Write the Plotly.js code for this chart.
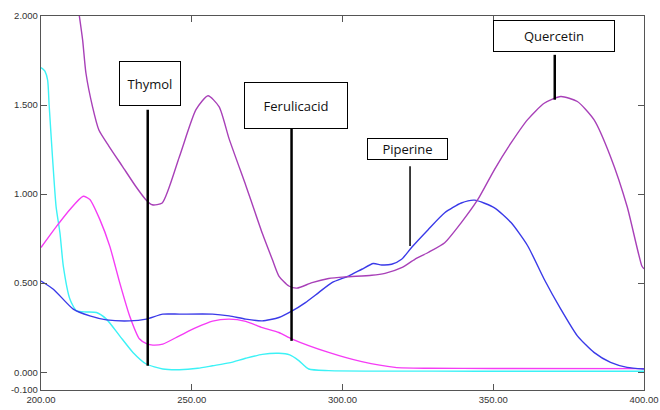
<!DOCTYPE html>
<html>
<head>
<meta charset="utf-8">
<script src="https://cdn.plot.ly/plotly-3.0.1.min.js"></script>
<style>html,body{margin:0;padding:0;background:#fff;}#chart{width:660px;height:410px;}</style>
</head>
<body>
<div id="chart"></div>
<script>
// Wavelength (nm) and absorbance
const cyanX = [200, 200.8, 201.3, 202.2, 202.7, 203.8, 205.0, 206.3, 207.4, 209.6, 211.8, 215.0, 218.4, 221.7, 226.1, 230.5, 234.9, 240.4, 245.9, 252.0, 256.9, 262.4, 267.9, 273.4, 278.9, 282.5, 285.5, 288.8, 295.4, 330, 360, 400];
const cyanY = [1.71, 1.70, 1.69, 1.64, 1.50, 1.21, 0.93, 0.78, 0.596, 0.41, 0.344, 0.338, 0.335, 0.298, 0.204, 0.111, 0.046, 0.018, 0.014, 0.022, 0.036, 0.052, 0.078, 0.100, 0.106, 0.097, 0.065, 0.018, 0.009, 0.006, 0.005, 0.005];

const magX = [200, 205.2, 209.6, 214.0, 216.2, 219.5, 222.8, 226.1, 229.4, 232.7, 235.0, 237.1, 240.4, 245.9, 251.4, 256.9, 262.4, 267.9, 273.4, 278.9, 283.3, 295.4, 306.4, 317.4, 328.4, 350, 400];
const magY = [0.70, 0.82, 0.914, 0.988, 0.97, 0.858, 0.708, 0.503, 0.316, 0.186, 0.16, 0.152, 0.158, 0.204, 0.25, 0.287, 0.298, 0.285, 0.25, 0.223, 0.186, 0.111, 0.059, 0.027, 0.022, 0.021, 0.020];

const blueX = [200, 204.1, 210.7, 216.2, 221.7, 229.4, 234.9, 240.4, 245.9, 256.9, 262.4, 267.9, 273.4, 278.9, 283.3, 287.7, 292.1, 296.5, 302.0, 306.4, 310.2, 313.0, 316.3, 319.6, 322.9, 328.4, 333.9, 339.4, 343.8, 350.4, 355.9, 361.4, 366.9, 372.4, 377.9, 383.4, 388.9, 394.4, 400];
const blueY = [0.512, 0.466, 0.354, 0.316, 0.294, 0.288, 0.298, 0.326, 0.326, 0.326, 0.316, 0.298, 0.288, 0.307, 0.344, 0.391, 0.447, 0.503, 0.54, 0.578, 0.61, 0.602, 0.606, 0.634, 0.70, 0.80, 0.895, 0.95, 0.966, 0.923, 0.84, 0.71, 0.522, 0.354, 0.204, 0.111, 0.055, 0.027, 0.018];

const purpX = [212.3, 213.8, 214.9, 217.1, 219.2, 222.5, 227.0, 231.4, 234.7, 236.9, 240.2, 245.9, 251.4, 255.4, 259.1, 262.4, 267.9, 269.6, 273.4, 276.7, 278.9, 282.2, 284.9, 289.9, 295.4, 300.9, 309.7, 314.1, 319.6, 324.0, 328.4, 333.9, 339.4, 344.9, 350.4, 355.9, 361.4, 366.9, 372.4, 377.9, 383.4, 388.9, 394.4, 399.3, 400];
const purpY = [2.05, 1.866, 1.68, 1.49, 1.36, 1.27, 1.156, 1.044, 0.97, 0.94, 0.95, 1.21, 1.474, 1.552, 1.49, 1.31, 1.05, 0.967, 0.78, 0.634, 0.54, 0.484, 0.472, 0.503, 0.526, 0.535, 0.544, 0.555, 0.587, 0.634, 0.672, 0.727, 0.84, 0.97, 1.138, 1.287, 1.418, 1.51, 1.548, 1.52, 1.418, 1.21, 0.93, 0.596, 0.58];

const xTicks = [200, 250, 300, 350, 400];
const xTickText = ["200.00", "250.00", "300.00", "350.00", "400.00"];
const yTicks = [-0.1, 0, 0.5, 1, 1.5, 2];
const yTickText = ["-0.100", "0.000", "0.500", "1.000", "1.500", "2.000"];

// Labels: name, pointer x, pointer top y, pointer bottom y, box x, box y
const labelNames = ["Thymol", "Ferulicacid", "Piperine", "Quercetin"];
const labelX = [235.4, 283.1, 322.4, 370.4];
const labelTop = [1.474, 1.366, 1.156, 1.782];
const labelBottom = [0.036, 0.176, 0.708, 1.53];
const boxX = [236.0, 284.6, 321.4, 370.0];
const boxY = [1.622, 1.497, 1.256, 1.887];

const boxW = [62, 104, 81, 122];
const boxH = [45, 47, 22, 32];
const lineW = [2.5, 2.5, 1.5, 2.5];

function series(x, y, color, name) {
  return {x: x, y: y, type: 'scatter', mode: 'lines', name: name,
    line: {color: color, width: 1.4, shape: 'spline', smoothing: 0.6}, hoverinfo: 'x+y'};
}

const traces = [
  series(cyanX, cyanY, '#3cf2f6', 'Cyan'),
  series(magX, magY, '#f53cf5', 'Magenta'),
  series(blueX, blueY, '#3a3ae8', 'Blue'),
  series(purpX, purpY, '#a840b8', 'Purple')
];

const shapes = labelNames.map((n, i) => ({
  type: 'line', xref: 'x', yref: 'y',
  x0: labelX[i], x1: labelX[i], y0: labelBottom[i], y1: labelTop[i],
  line: {color: '#000', width: lineW[i]}
}));

const annotations = labelNames.map((n, i) => ({
  x: boxX[i], y: boxY[i], xref: 'x', yref: 'y', text: n, showarrow: false,
  width: boxW[i] - 2, height: boxH[i] - 2,
  bgcolor: '#fff', bordercolor: '#000', borderwidth: 1, borderpad: 0,
  font: {family: '"Open Sans", Lato, sans-serif', size: 13, color: '#111'}
}));

const axisCommon = {
  showgrid: false, zeroline: false, showline: true, linecolor: '#555', linewidth: 1.2,
  mirror: 'ticks', ticks: 'inside', ticklen: 6, tickcolor: '#555', tickwidth: 1,
  ticklabeloverflow: 'allow',
  tickfont: {family: '"Liberation Sans", Arial, sans-serif', size: 9.5, color: '#333'}
};

const layout = {
  width: 660, height: 410,
  margin: {l: 41, r: 16, t: 16, b: 20},
  paper_bgcolor: '#fff', plot_bgcolor: '#fff',
  showlegend: false,
  xaxis: Object.assign({}, axisCommon, {range: [200, 400], tickvals: xTicks, ticktext: xTickText}),
  yaxis: Object.assign({}, axisCommon, {range: [-0.1, 2.0], tickvals: yTicks, ticktext: yTickText}),
  shapes: shapes,
  annotations: annotations
};

Plotly.newPlot('chart', traces, layout, {displayModeBar: false, staticPlot: true});
</script>
</body>
</html>
